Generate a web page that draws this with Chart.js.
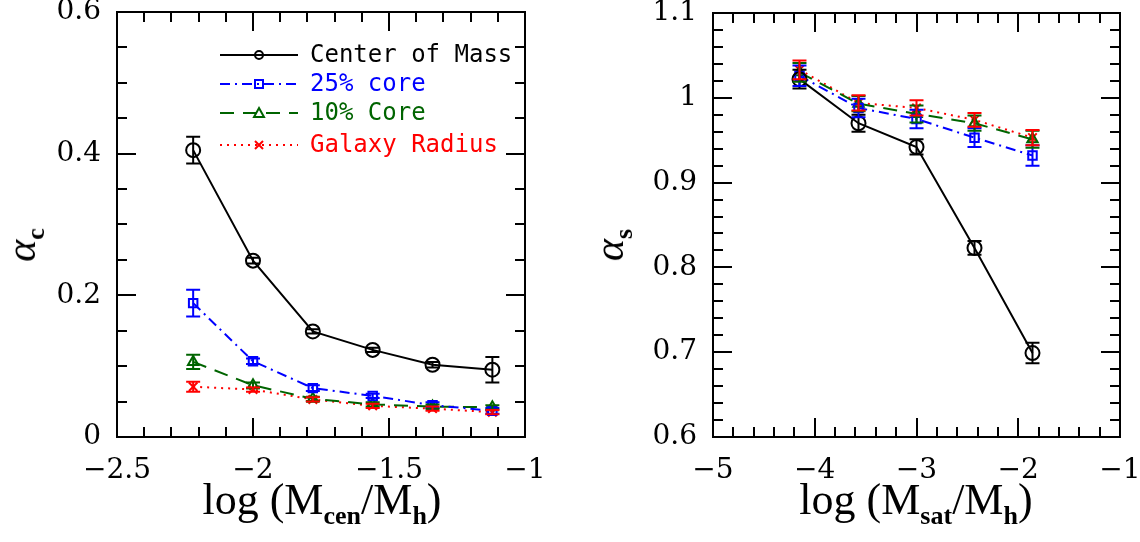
<!DOCTYPE html>
<html>
<head>
<meta charset="utf-8">
<script src="https://cdn.jsdelivr.net/npm/chart.js@4"></script>
<style>
  body { margin: 0; background: #fff; width: 1140px; height: 542px; position: relative; overflow: hidden; }
  .panel { position: absolute; top: -20px; }
  .xtitle, .ytitle { position: absolute; font-family: "Liberation Serif", "DejaVu Serif", serif; color: #000; white-space: nowrap; }
  .xtitle { font-size: 44px; top: 474px; transform: translateX(-50%); }
  .xtitle sub { font-size: 26px; font-weight: bold; vertical-align: -10px; }
  .ytitle { font-size: 42px; font-style: italic; transform: translate(-50%, -50%) rotate(-90deg); }
  .ytitle sub { font-size: 26px; font-style: normal; font-weight: bold; vertical-align: -9px; }
</style>
</head>
<body>
<div class="panel" style="left:0;width:560px;height:562px"><canvas id="cen" width="560" height="562"></canvas></div>
<div class="panel" style="left:560px;width:580px;height:562px"><canvas id="sat" width="580" height="562"></canvas></div>
<div class="ytitle" style="left:24px;top:245px">α<sub>c</sub></div>
<div class="ytitle" style="left:612px;top:245px">α<sub>s</sub></div>
<div class="xtitle" style="left:322px">log (M<sub>cen</sub>/M<sub>h</sub>)</div>
<div class="xtitle" style="left:916px">log (M<sub>sat</sub>/M<sub>h</sub>)</div>
<script>
// left panel: central galaxies
const xCen = [-2.22, -2.0, -1.78, -1.56, -1.34, -1.12]
const comCen = [0.405, 0.249, 0.149, 0.123, 0.102, 0.095]
const comCenErr = [0.019, 0.004, 0.003, 0.003, 0.004, 0.018]
const core25Cen = [0.189, 0.107, 0.069, 0.058, 0.045, 0.037]
const core25CenErr = [0.019, 0.004, 0.004, 0.003, 0.004, 0.004]
const core10Cen = [0.106, 0.073, 0.054, 0.046, 0.043, 0.042]
const core10CenErr = [0.010, 0.004, 0.003, 0.003, 0.003, 0.003]
const galCen = [0.071, 0.067, 0.053, 0.044, 0.040, 0.035]
const galCenErr = [0.007, 0.003, 0.003, 0.003, 0.003, 0.003]

// right panel: satellites
const xSat = [-4.15, -3.57, -3.0, -2.43, -1.86]
const comSat = [1.022, 0.970, 0.942, 0.823, 0.699]
const comSatErr = [0.011, 0.010, 0.009, 0.008, 0.012]
const core25Sat = [1.026, 0.988, 0.975, 0.953, 0.932]
const core25SatErr = [0.012, 0.011, 0.011, 0.011, 0.012]
const core10Sat = [1.030, 0.993, 0.981, 0.970, 0.951]
const core10SatErr = [0.011, 0.009, 0.010, 0.009, 0.010]
const galSat = [1.033, 0.994, 0.988, 0.974, 0.953]
const galSatErr = [0.011, 0.009, 0.009, 0.008, 0.009]

const seriesNames = ['Center of Mass', '25% core', '10% Core', 'Galaxy Radius']
const seriesColors = ['#000000', '#0000ff', '#006400', '#ff0000']
const seriesDash = [[], [10, 5, 2, 5], [14, 9], [2, 5]]
const seriesPoint = ['circle', 'rect', 'triangle', 'crossRot']

function makeDataset(i, xs, ys, errs) {
    return {
        label: seriesNames[i],
        data: xs.map((x, k) => ({ x: x, y: ys[k] })),
        errors: errs,
        borderColor: seriesColors[i],
        borderWidth: 2,
        borderDash: seriesDash[i],
        pointStyle: seriesPoint[i],
        pointRadius: i === 0 ? 7 : 6,
        pointBorderWidth: 2,
        pointBorderColor: seriesColors[i],
        pointBackgroundColor: 'rgba(0,0,0,0)',
        tension: 0,
        fill: false
    }
}

const tickFont = { family: '"DejaVu Serif", serif', size: 28 }
const fmt = v => String(Math.round(v * 100) / 100).replace('-', '\u2212')

// error bars from the dataset's errors array, through the y scale
const errorBars = {
    id: 'errorBars',
    afterDatasetsDraw(chart) {
        const ctx = chart.ctx
        const ys = chart.scales.y
        chart.data.datasets.forEach((ds, i) => {
            const meta = chart.getDatasetMeta(i)
            ctx.save()
            ctx.strokeStyle = ds.borderColor
            ctx.lineWidth = 2
            meta.data.forEach((pt, k) => {
                const v = ds.data[k].y
                const e = ds.errors[k]
                const top = ys.getPixelForValue(v + e)
                const bot = ys.getPixelForValue(v - e)
                ctx.beginPath()
                ctx.moveTo(pt.x, top); ctx.lineTo(pt.x, bot)
                ctx.moveTo(pt.x - 7, top); ctx.lineTo(pt.x + 7, top)
                ctx.moveTo(pt.x - 7, bot); ctx.lineTo(pt.x + 7, bot)
                ctx.stroke()
            })
            ctx.restore()
        })
    }
}

// box frame with inward ticks on all four sides
function frameTicks(xMajor, xMinor, yMajor, yMinor) {
    return {
        id: 'frameTicks',
        afterDraw(chart) {
            const ctx = chart.ctx
            const a = chart.chartArea
            const xs = chart.scales.x, ys = chart.scales.y
            ctx.save()
            ctx.strokeStyle = '#000'
            ctx.lineWidth = 2
            ctx.strokeRect(a.left, a.top, a.right - a.left, a.bottom - a.top)
            ctx.beginPath()
            const nx = Math.round((xs.max - xs.min) / xMinor)
            for (let k = 1; k < nx; k++) {
                const v = xs.min + k * xMinor
                const major = Math.abs(v / xMajor - Math.round(v / xMajor)) < 1e-6
                const len = major ? 19 : 10
                const px = Math.round(xs.getPixelForValue(v))
                ctx.moveTo(px, a.bottom); ctx.lineTo(px, a.bottom - len)
                ctx.moveTo(px, a.top); ctx.lineTo(px, a.top + len)
            }
            const ny = Math.round((ys.max - ys.min) / yMinor)
            for (let k = 1; k < ny; k++) {
                const v = ys.min + k * yMinor
                const major = Math.abs(v / yMajor - Math.round(v / yMajor)) < 1e-6
                const len = major ? 19 : 10
                const py = Math.round(ys.getPixelForValue(v))
                ctx.moveTo(a.left, py); ctx.lineTo(a.left + len, py)
                ctx.moveTo(a.right, py); ctx.lineTo(a.right - len, py)
            }
            ctx.stroke()
            ctx.restore()
        }
    }
}

function drawMarker(ctx, style, x, y, r) {
    ctx.beginPath()
    if (style === 'circle') {
        ctx.arc(x, y, r, 0, Math.PI * 2)
    } else if (style === 'rect') {
        ctx.rect(x - r, y - r, 2 * r, 2 * r)
    } else if (style === 'triangle') {
        ctx.moveTo(x, y - r - 1); ctx.lineTo(x + r + 1, y + r); ctx.lineTo(x - r - 1, y + r); ctx.closePath()
    } else {
        ctx.moveTo(x - r, y - r); ctx.lineTo(x + r, y + r)
        ctx.moveTo(x + r, y - r); ctx.lineTo(x - r, y + r)
    }
    ctx.stroke()
}

// legend inside the left panel (canvas sits 20px above the page)
const keyLegend = {
    id: 'keyLegend',
    afterDraw(chart) {
        const ctx = chart.ctx
        const rows = [75, 104, 133, 165]
        ctx.save()
        ctx.font = '24px "DejaVu Sans Mono", monospace'
        ctx.textBaseline = 'middle'
        seriesNames.forEach((name, i) => {
            const y = rows[i]
            ctx.strokeStyle = seriesColors[i]
            ctx.fillStyle = seriesColors[i]
            ctx.lineWidth = 2
            ctx.setLineDash(seriesDash[i])
            ctx.beginPath()
            ctx.moveTo(220, y); ctx.lineTo(298, y)
            ctx.stroke()
            ctx.setLineDash([])
            drawMarker(ctx, seriesPoint[i], 259, y, 4)
            ctx.fillText(name, 310, y + 1)
        })
        ctx.restore()
    }
}

function makeOptions(xMin, xMax, xStep, yMin, yMax, yStep, yWidth, top, right) {
    return {
        responsive: false,
        animation: false,
        layout: { padding: { top: top, right: right, left: 0, bottom: 0 } },
        plugins: { legend: { display: false }, tooltip: { enabled: false } },
        scales: {
            x: {
                type: 'linear', min: xMin, max: xMax,
                grid: { display: false, drawTicks: false },
                border: { display: false },
                ticks: { stepSize: xStep, color: '#000', font: tickFont, padding: 17, maxRotation: 0, callback: fmt },
                afterFit(scale) {
                    scale.height = 105
                    scale.paddingLeft = 0
                    scale.paddingRight = 0
                }
            },
            y: {
                type: 'linear', min: yMin, max: yMax,
                grid: { display: false, drawTicks: false },
                border: { display: false },
                ticks: { stepSize: yStep, color: '#000', font: tickFont, padding: 16, callback: fmt },
                afterFit(scale) {
                    scale.width = yWidth
                    scale.paddingTop = 0
                    scale.paddingBottom = 0
                }
            }
        }
    }
}

new Chart(document.getElementById('cen'), {
    type: 'line',
    data: {
        datasets: [
            makeDataset(0, xCen, comCen, comCenErr),
            makeDataset(1, xCen, core25Cen, core25CenErr),
            makeDataset(2, xCen, core10Cen, core10CenErr),
            makeDataset(3, xCen, galCen, galCenErr)
        ]
    },
    options: makeOptions(-2.5, -1, 0.5, 0, 0.6, 0.2, 117, 32, 35),
    plugins: [errorBars, frameTicks(0.5, 0.1, 0.2, 0.05), keyLegend]
})

new Chart(document.getElementById('sat'), {
    type: 'line',
    data: {
        datasets: [
            makeDataset(0, xSat, comSat, comSatErr),
            makeDataset(1, xSat, core25Sat, core25SatErr),
            makeDataset(2, xSat, core10Sat, core10SatErr),
            makeDataset(3, xSat, galSat, galSatErr)
        ]
    },
    options: makeOptions(-5, -1, 1, 0.6, 1.1, 0.1, 153, 33, 20),
    plugins: [errorBars, frameTicks(1, 0.2, 0.1, 0.02)]
})
</script>
</body>
</html>
